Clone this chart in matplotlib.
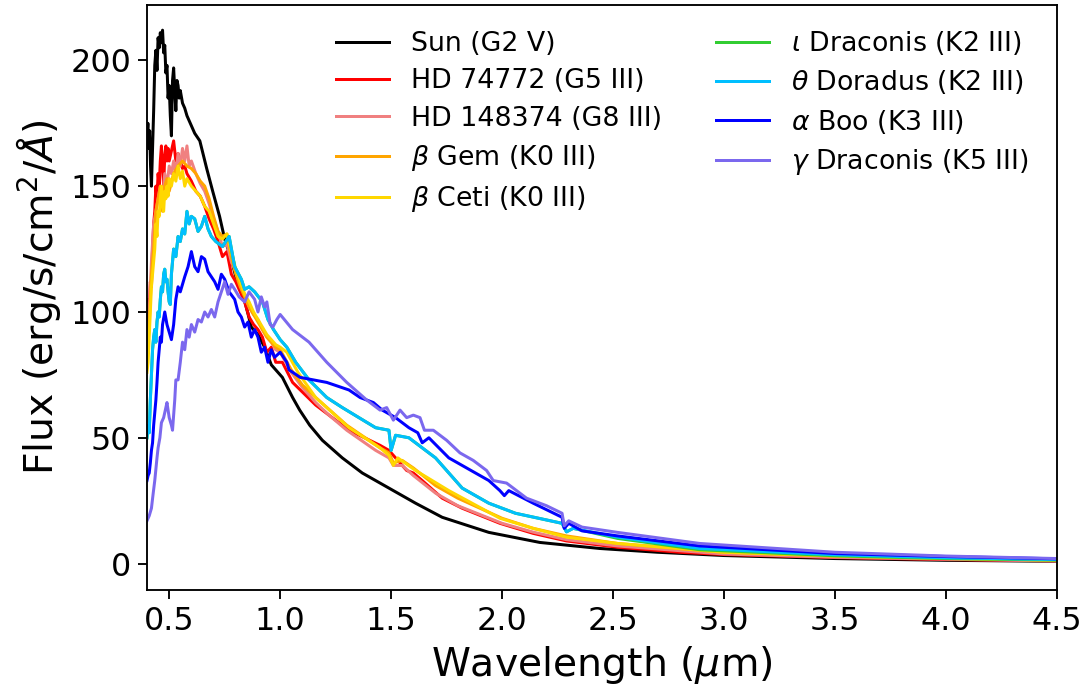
import matplotlib
matplotlib.use("Agg")
import matplotlib.pyplot as plt

# ---------------- data ----------------
sun_wl = [0.400, 0.404, 0.408, 0.412, 0.416, 0.420, 0.425, 0.430, 0.435, 0.440, 0.445, 0.450,
          0.455, 0.460, 0.465, 0.470, 0.475, 0.480, 0.485, 0.490, 0.495, 0.500, 0.505, 0.510,
          0.515, 0.520, 0.525, 0.530, 0.535, 0.540, 0.545, 0.550, 0.560, 0.570, 0.580, 0.590,
          0.600, 0.615, 0.638, 0.669, 0.696, 0.727, 0.750, 0.780, 0.800, 0.826, 0.853, 0.870,
          0.900, 0.930, 0.960, 1.010, 1.056, 1.088, 1.133, 1.190, 1.280, 1.370, 1.490, 1.610,
          1.730, 1.940, 2.170, 2.440, 2.700, 3.000, 3.500, 4.000, 4.500]
sun_fx = [170, 175, 165, 172, 158, 150, 165, 180, 198, 204, 196, 209,
          205, 211, 207, 212, 203, 206, 195, 198, 185, 190, 178, 170,
          192, 197, 188, 180, 192, 190, 185, 188, 183, 181, 178, 176,
          174, 171, 168, 157, 148, 138, 129, 121, 114, 109, 100, 94,
          91, 86, 79, 74, 66, 61, 55, 49, 42, 36, 30, 24,
          18.4, 12.4, 8.4, 6.0, 4.5, 3.2, 2.0, 1.3, 0.9]

hd74772_wl = [0.400, 0.405, 0.410, 0.415, 0.420, 0.425, 0.430, 0.435, 0.440, 0.445, 0.450, 0.455,
              0.460, 0.465, 0.470, 0.475, 0.480, 0.485, 0.490, 0.495, 0.500, 0.510, 0.520, 0.530,
              0.540, 0.550, 0.560, 0.570, 0.580, 0.600, 0.620, 0.640, 0.660, 0.680, 0.700, 0.720,
              0.740, 0.760, 0.780, 0.800, 0.820, 0.840, 0.860, 0.880, 0.900, 0.920, 0.940, 0.960,
              0.980, 1.010, 1.056, 1.160, 1.310, 1.450, 1.490, 1.520, 1.570, 1.600, 1.640, 1.730,
              1.820, 1.990, 2.140, 2.290, 2.520, 2.800, 3.000, 3.500, 4.000, 4.500]
hd74772_fx = [96, 105, 100, 112, 110, 125, 135, 140, 150, 145, 155, 150,
              160, 166, 158, 150, 162, 166, 160, 165, 160, 164, 168, 160,
              163, 160, 157, 158, 155, 152, 148, 146, 142, 137, 133, 128,
              122, 124, 115, 112, 108, 104, 98, 95, 93, 90, 84, 86,
              80, 80, 72, 63, 53, 47, 45, 42, 37, 36, 33, 26,
              22, 16, 12, 9, 6.5, 4.5, 3.6, 2.4, 1.6, 1.1]

hd148374_wl = [0.400, 0.410, 0.420, 0.430, 0.440, 0.450, 0.460, 0.470, 0.480, 0.490, 0.500, 0.510,
               0.520, 0.530, 0.540, 0.550, 0.560, 0.570, 0.580, 0.590, 0.600, 0.620, 0.640, 0.660,
               0.680, 0.700, 0.720, 0.740, 0.760, 0.780, 0.800, 0.820, 0.840, 0.860, 0.880, 0.900,
               0.920, 0.940, 0.960, 0.980, 1.000, 1.050, 1.100, 1.160, 1.220, 1.300, 1.430, 1.490,
               1.510, 1.550, 1.600, 1.700, 1.800, 2.000, 2.140, 2.290, 2.520, 3.000, 3.500, 4.500]
hd148374_fx = [88, 100, 120, 135, 140, 145, 150, 145, 155, 150, 158, 155,
               160, 155, 163, 158, 165, 160, 166, 158, 160, 155, 151, 148,
               143, 137, 132, 126, 127, 120, 116, 111, 107, 102, 99, 97,
               93, 90, 88, 85, 84, 76, 70, 64, 59, 53, 45, 42,
               39, 39, 35, 28, 23, 16, 12.5, 9.5, 7, 3.8, 2.5, 1.0]

bgem_wl = [0.400, 0.410, 0.420, 0.430, 0.440, 0.450, 0.460, 0.470, 0.480, 0.490, 0.500, 0.520,
           0.540, 0.560, 0.580, 0.600, 0.620, 0.640, 0.660, 0.680, 0.700, 0.720, 0.740, 0.760,
           0.780, 0.800, 0.820, 0.840, 0.860, 0.880, 0.900, 0.920, 0.940, 0.960, 0.980, 1.000,
           1.050, 1.100, 1.160, 1.300, 1.450, 1.490, 1.510, 1.550, 1.600, 1.700, 1.800, 2.000,
           2.140, 2.290, 2.520, 3.000, 3.500, 4.500]
bgem_fx = [85, 95, 115, 125, 140, 145, 150, 140, 150, 153, 148, 155,
           158, 160, 158, 157, 155, 152, 150, 145, 138, 132, 130, 131,
           122, 115, 110, 106, 102, 99, 96, 93, 90, 88, 86, 85,
           77, 71, 66, 55, 46, 44, 40, 41, 38, 31, 26, 18,
           14, 11, 8, 4.5, 3, 1.3]

bceti_wl = [0.400, 0.405, 0.410, 0.415, 0.420, 0.425, 0.430, 0.435, 0.440, 0.445, 0.450, 0.455,
            0.460, 0.465, 0.470, 0.475, 0.480, 0.485, 0.490, 0.495, 0.500, 0.510, 0.520, 0.530,
            0.540, 0.550, 0.560, 0.570, 0.580, 0.600, 0.620, 0.640, 0.660, 0.680, 0.700, 0.720,
            0.740, 0.760, 0.780, 0.800, 0.820, 0.840, 0.860, 0.880, 0.900, 0.920, 0.940, 0.960,
            0.980, 1.000, 1.030, 1.080, 1.160, 1.310, 1.450, 1.490, 1.510, 1.530, 1.610, 1.760,
            1.990, 2.140, 2.290, 2.520, 3.000, 3.500, 4.000, 4.500]
bceti_fx = [76, 80, 90, 100, 110, 115, 120, 125, 135, 130, 140, 138,
            145, 150, 142, 140, 148, 145, 150, 146, 153, 150, 155, 152,
            158, 153, 156, 150, 153, 150, 148, 146, 142, 140, 135, 130,
            129, 131, 124, 117, 112, 107, 104, 100, 97, 94, 91, 89,
            87, 86, 84, 76, 66, 54, 46, 43, 39, 42, 37, 29,
            18, 14, 10.5, 8, 4.5, 3, 2, 1.4]

tdor_wl = [0.400, 0.405, 0.410, 0.415, 0.420, 0.425, 0.430, 0.435, 0.440, 0.445, 0.450, 0.455,
           0.460, 0.465, 0.470, 0.475, 0.480, 0.485, 0.490, 0.495, 0.500, 0.505, 0.510, 0.520,
           0.530, 0.540, 0.550, 0.560, 0.570, 0.580, 0.590, 0.600, 0.615, 0.630, 0.645, 0.660,
           0.675, 0.690, 0.710, 0.740, 0.770, 0.795, 0.825, 0.840, 0.860, 0.885, 0.920, 0.945,
           0.970, 1.000, 1.030, 1.070, 1.130, 1.210, 1.280, 1.430, 1.490, 1.500, 1.520, 1.580,
           1.700, 1.820, 1.940, 2.060, 2.270, 2.290, 2.320, 2.520, 2.890, 3.500, 4.000, 4.500]
tdor_fx = [50, 55, 52, 65, 75, 85, 90, 93, 88, 96, 100, 98,
           105, 110, 108, 115, 117, 112, 113, 108, 104, 103, 115, 125,
           122, 130, 128, 133, 131, 140, 135, 138, 137, 132, 134, 138,
           133, 130, 128, 126, 130, 118, 113, 109, 110, 108, 104, 97,
           93, 89, 86, 80, 73, 66, 62, 54, 53, 45, 51, 50,
           42, 30, 24, 20, 16, 12.6, 14, 10.5, 6, 3.5, 2.3, 1.6]

idra_wl = [0.400, 0.405, 0.410, 0.415, 0.420, 0.425, 0.430, 0.435, 0.440, 0.445, 0.450, 0.455,
           0.460, 0.465, 0.470, 0.475, 0.480, 0.485, 0.490, 0.495, 0.500, 0.505, 0.510, 0.520,
           0.530, 0.540, 0.550, 0.560, 0.570, 0.580, 0.590, 0.600, 0.615, 0.630, 0.645, 0.660,
           0.675, 0.690, 0.710, 0.740, 0.770, 0.795, 0.825, 0.840, 0.860, 0.885, 0.920, 0.945,
           0.970, 1.000, 1.030, 1.070, 1.130, 1.210, 1.280, 1.430, 1.490, 1.500, 1.520, 1.580,
           1.700, 1.820, 1.940, 2.060, 2.270, 2.290, 2.320, 2.520, 2.890, 3.500, 4.000, 4.500]
idra_fx = [50, 55, 52, 65, 75, 85, 90, 93, 88, 96, 100, 98,
           105, 110, 108, 115, 117, 112, 113, 108, 104, 103, 115, 125,
           122, 130, 128, 133, 131, 140, 135, 138, 137, 132, 134, 138,
           133, 130, 128, 126, 130, 118, 113, 109, 110, 108, 104, 97,
           93, 89, 86, 80, 73, 66, 62, 54, 53, 45, 51, 50,
           42, 30, 24, 20, 16, 12.6, 14, 10.0, 5.5, 3.1, 2.0, 1.4]

aboo_wl = [0.400, 0.405, 0.410, 0.415, 0.420, 0.425, 0.430, 0.435, 0.440, 0.445, 0.450, 0.455,
           0.460, 0.465, 0.470, 0.480, 0.490, 0.500, 0.510, 0.520, 0.530, 0.540, 0.550, 0.570,
           0.585, 0.600, 0.615, 0.630, 0.645, 0.660, 0.675, 0.690, 0.705, 0.720, 0.735, 0.750,
           0.770, 0.795, 0.810, 0.825, 0.840, 0.855, 0.870, 0.885, 0.900, 0.915, 0.930, 0.945,
           0.960, 0.975, 1.000, 1.030, 1.040, 1.090, 1.210, 1.310, 1.360, 1.420, 1.460, 1.520,
           1.580, 1.620, 1.640, 1.670, 1.760, 1.840, 1.940, 1.990, 2.010, 2.030, 2.140, 2.270,
           2.280, 2.300, 2.360, 2.520, 2.890, 3.500, 4.000, 4.500]
aboo_fx = [33, 35, 36, 40, 45, 48, 55, 60, 65, 72, 80, 85,
           90, 88, 95, 100, 95, 92, 89, 95, 105, 110, 108, 114,
           118, 124, 118, 116, 122, 121, 116, 114, 112, 109, 115, 113,
           108, 105, 100, 98, 94, 96, 90, 93, 90, 84, 86, 80,
           85, 82, 84, 80, 77, 74, 72, 69, 66, 64, 61, 58,
           54, 52, 48, 50, 42, 38, 33, 29, 27, 29, 24, 18.4,
           14, 16, 13, 11, 7, 4, 2.8, 1.9]

gdra_wl = [0.400, 0.410, 0.420, 0.428, 0.435, 0.445, 0.450, 0.458, 0.465, 0.475, 0.485, 0.490,
           0.500, 0.510, 0.515, 0.525, 0.530, 0.540, 0.550, 0.560, 0.570, 0.580, 0.590, 0.600,
           0.615, 0.630, 0.645, 0.660, 0.675, 0.690, 0.705, 0.720, 0.735, 0.750, 0.765, 0.780,
           0.795, 0.815, 0.840, 0.860, 0.885, 0.900, 0.915, 0.930, 0.940, 0.955, 0.967, 0.985,
           1.000, 1.056, 1.130, 1.210, 1.300, 1.390, 1.450, 1.480, 1.510, 1.540, 1.570, 1.600,
           1.630, 1.650, 1.690, 1.750, 1.810, 1.870, 1.930, 1.960, 2.020, 2.110, 2.200, 2.270,
           2.280, 2.300, 2.360, 2.520, 2.890, 3.500, 4.000, 4.500]
gdra_fx = [17, 19, 22, 28, 33, 42, 46, 50, 56, 58, 62, 64,
           58, 55, 53, 65, 73, 73, 80, 88, 85, 93, 90, 95,
           92, 97, 96, 100, 98, 101, 98, 104, 108, 112, 107, 111,
           109, 106, 104, 108, 105, 100, 106, 102, 104, 95, 94, 97,
           99, 93, 88, 80, 72, 65, 61, 62, 57, 61, 58, 59,
           58, 53, 53, 49, 44, 41, 37, 33, 32, 26, 23, 20,
           15, 17, 14.5, 12.4, 8, 4.5, 3, 2.0]

labels = ["Sun (G2 V)", "HD 74772 (G5 III)", "HD 148374 (G8 III)",
          r"$\beta$ Gem (K0 III)", r"$\beta$ Ceti (K0 III)", r"$\iota$ Draconis (K2 III)",
          r"$\theta$ Doradus (K2 III)", r"$\alpha$ Boo (K3 III)", r"$\gamma$ Draconis (K5 III)"]
colors = ["black", "red", "lightcoral", "orange", "gold", "limegreen",
          "deepskyblue", "blue", "mediumslateblue"]
series = [(sun_wl, sun_fx), (hd74772_wl, hd74772_fx), (hd148374_wl, hd148374_fx),
          (bgem_wl, bgem_fx), (bceti_wl, bceti_fx), (idra_wl, idra_fx),
          (tdor_wl, tdor_fx), (aboo_wl, aboo_fx), (gdra_wl, gdra_fx)]

# ---------------- plot ----------------
DPI = 135
fig = plt.figure(figsize=(1081 / DPI, 689 / DPI), dpi=DPI)
ax = fig.add_axes([147 / 1081, 1 - 590 / 689, (1057 - 147) / 1081, (590 - 5) / 689])

for (wl, fx), lab, col in zip(series, labels, colors):
    ax.plot(wl, fx, color=col, lw=1.6, label=lab)

ax.set_xlim(0.4, 4.5)
ax.set_ylim(-10.5, 222)
ax.set_xticks([0.5, 1.0, 1.5, 2.0, 2.5, 3.0, 3.5, 4.0, 4.5])
ax.set_yticks([0, 50, 100, 150, 200])
ax.tick_params(labelsize=17, width=1, length=5)
for s in ax.spines.values():
    s.set_linewidth(1.0)

ax.set_xlabel(r"Wavelength ($\mu$m)", fontsize=21)
ax.set_ylabel(r"Flux (erg/s/cm$^2$/$Å$)", fontsize=21)

ax.legend(loc="upper right", ncol=2, frameon=False, fontsize=14.3,
          columnspacing=2.0, labelspacing=0.42, bbox_to_anchor=(0.995, 1.0))

fig.savefig("out.png", dpi=DPI)
